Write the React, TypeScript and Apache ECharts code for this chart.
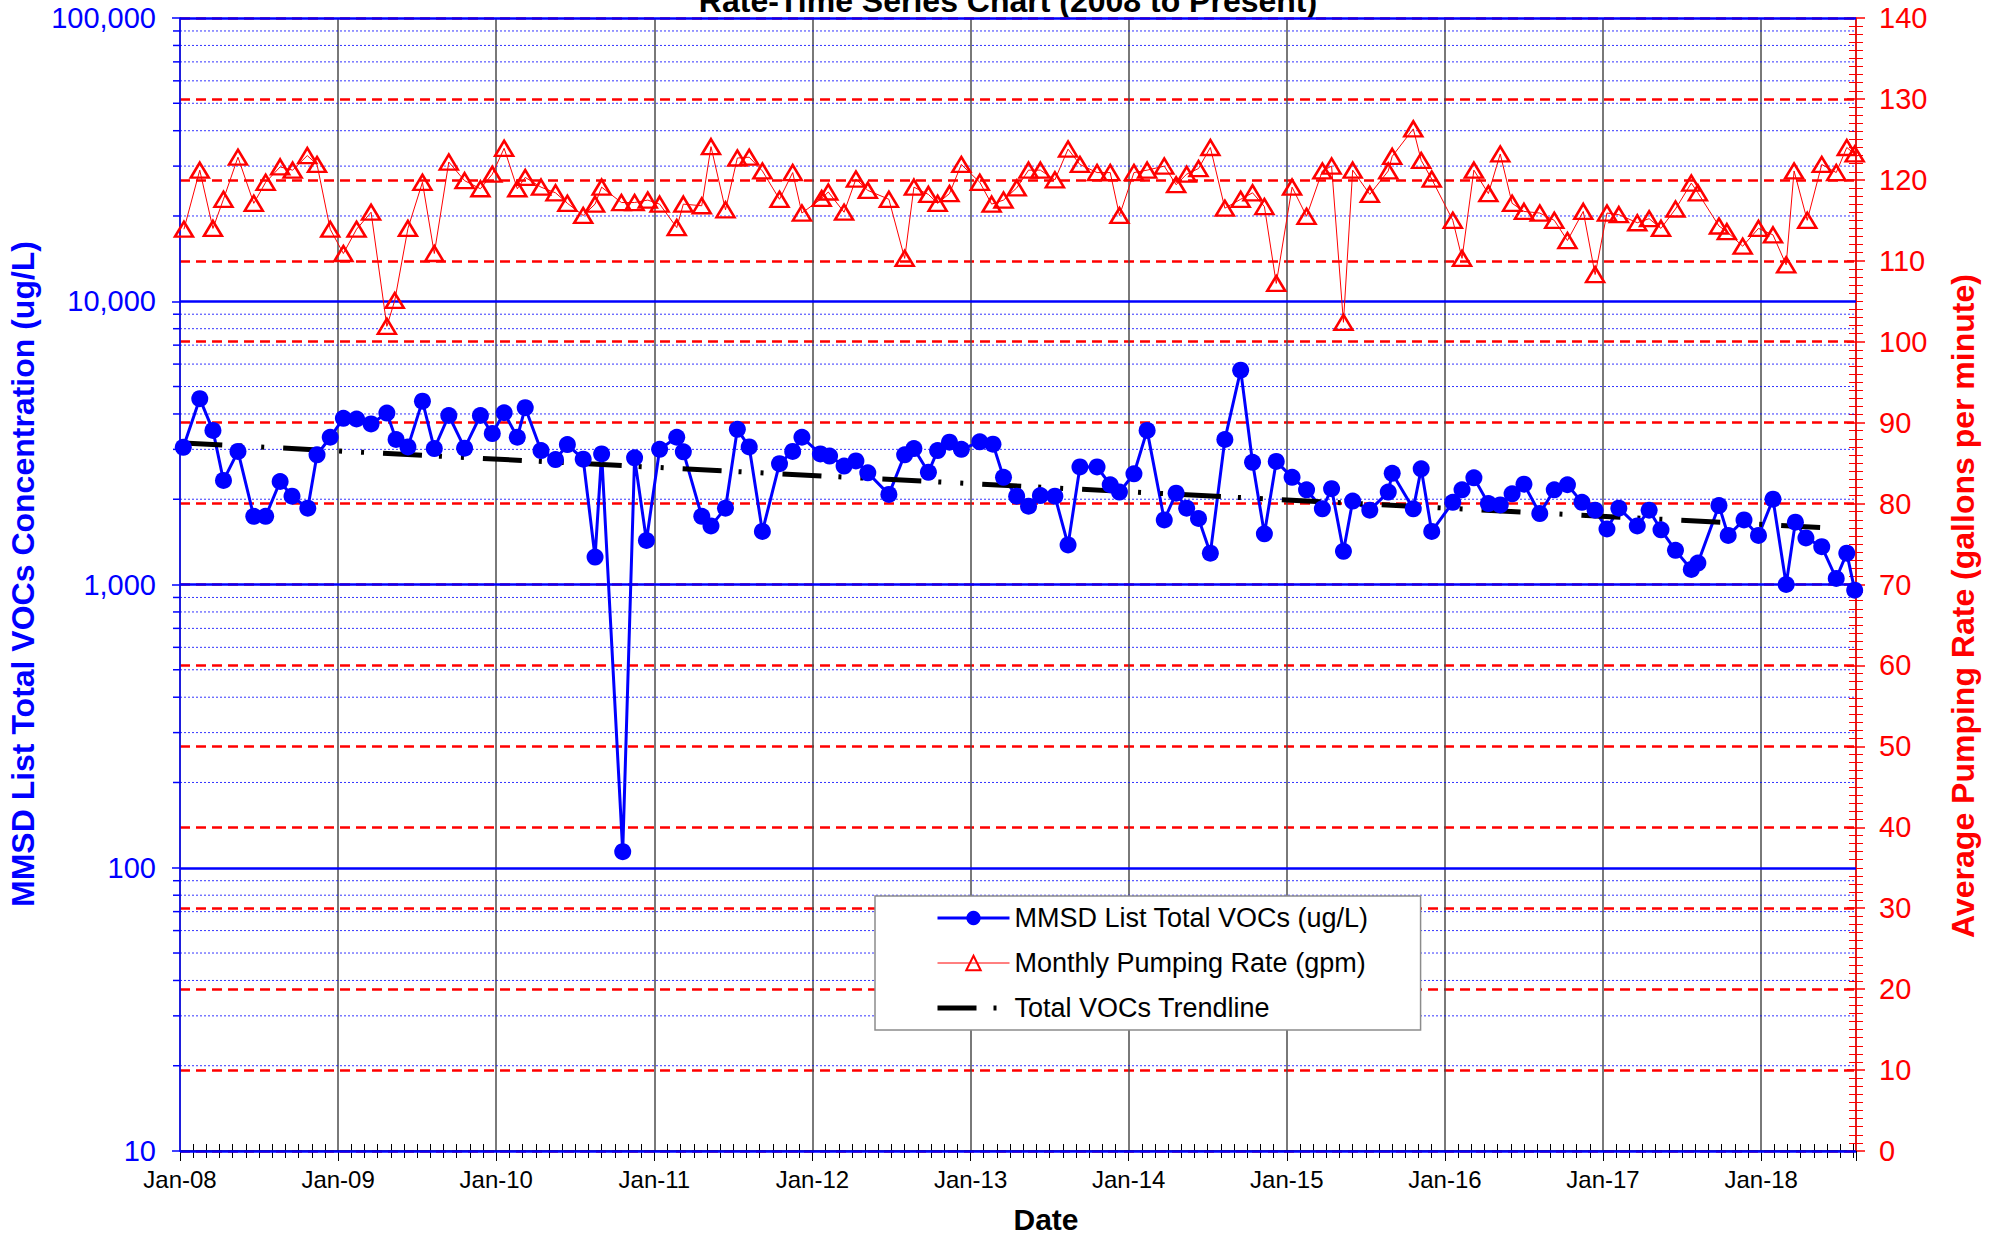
import React, { useEffect, useRef } from 'react';
import * as echarts from 'echarts';

// x values are months elapsed since 1 Jan 2008
const YEAR_LABELS = ['Jan-08', 'Jan-09', 'Jan-10', 'Jan-11', 'Jan-12', 'Jan-13', 'Jan-14', 'Jan-15', 'Jan-16', 'Jan-17', 'Jan-18'];

const PUMP_MONTHS = [
  0.3, 1.5, 2.5, 3.3, 4.4, 5.6, 6.5, 7.6, 8.55, 9.66, 10.4, 11.4,
  12.4, 13.4, 14.5, 15.7, 16.3, 17.3, 18.4, 19.3, 20.4, 21.6, 22.8, 23.7,
  24.6, 25.6, 26.2, 27.4, 28.5, 29.4, 30.6, 31.5, 32.0, 33.5, 34.5, 35.5,
  36.4, 37.7, 38.2, 39.6, 40.3, 41.4, 42.3, 43.2, 44.2, 45.5, 46.5, 47.2,
  48.7, 49.2, 50.4, 51.3, 52.2, 53.8, 55.0, 55.7, 56.8, 57.5, 58.4, 59.3,
  60.7, 61.6, 62.5, 63.5, 64.4, 65.3, 66.4, 67.4, 68.3, 69.6, 70.6, 71.3,
  72.4, 73.4, 74.7, 75.6, 76.4, 77.3, 78.2, 79.3, 80.5, 81.4, 82.3, 83.2,
  84.4, 85.5, 86.7, 87.4, 88.3, 89.0, 90.3, 91.7, 92.0, 93.6, 94.2, 95.0,
  96.6, 97.3, 98.2, 99.3, 100.2, 101.1, 102.0, 103.2, 104.3, 105.3, 106.5, 107.4,
  108.3, 109.2, 110.6, 111.5, 112.4, 113.5, 114.7, 115.2, 116.8, 117.4, 118.6, 119.8,
  120.9, 121.9, 122.5, 123.5, 124.6, 125.7, 126.5, 127.1,
];
const PUMP_RATES = [
  113.9, 121.2, 114.0, 117.6, 122.8, 117.1, 119.7, 121.6, 121.2, 123.0, 121.9, 113.9,
  110.9, 113.9, 116.0, 101.9, 105.1, 114.0, 119.7, 110.9, 122.2, 119.9, 118.9, 120.7,
  123.9, 118.9, 120.3, 119.1, 118.4, 117.1, 115.6, 117.0, 119.1, 117.2, 117.2, 117.5,
  117.0, 114.1, 117.0, 116.8, 124.1, 116.3, 122.7, 122.8, 121.1, 117.6, 120.9, 115.9,
  117.7, 118.5, 116.0, 120.1, 118.7, 117.6, 110.3, 119.1, 118.2, 117.1, 118.3, 121.9,
  119.7, 117.0, 117.5, 119.0, 121.2, 121.2, 120.0, 123.8, 121.9, 120.9, 120.9, 115.6,
  120.9, 121.2, 121.7, 119.4, 120.7, 121.4, 124.0, 116.5, 117.6, 118.4, 116.7, 107.2,
  119.1, 115.5, 121.1, 121.7, 102.4, 121.2, 118.2, 121.1, 122.9, 126.3, 122.4, 120.1,
  115.0, 110.3, 121.2, 118.3, 123.2, 117.1, 116.1, 115.9, 115.0, 112.5, 116.1, 108.3,
  115.9, 115.7, 114.7, 115.2, 114.0, 116.4, 119.6, 118.4, 114.3, 113.6, 111.8, 114.0,
  113.2, 109.5, 121.1, 115.0, 121.9, 120.9, 124.0, 123.2,
];

const VOC_MONTHS = [
  0.25, 1.5, 2.5, 3.3, 4.4, 5.6, 6.5, 7.6, 8.5, 9.7, 10.4, 11.4,
  12.4, 13.4, 14.5, 15.7, 16.4, 17.3, 18.4, 19.3, 20.4, 21.6, 22.8, 23.7,
  24.6, 25.6, 26.2, 27.4, 28.5, 29.4, 30.6, 31.5, 32.0, 33.6, 34.5, 35.4,
  36.4, 37.7, 38.2, 39.6, 40.3, 41.4, 42.3, 43.2, 44.2, 45.5, 46.5, 47.2,
  48.6, 49.3, 50.4, 51.3, 52.2, 53.8, 55.0, 55.7, 56.8, 57.5, 58.4, 59.3,
  60.7, 61.7, 62.5, 63.5, 64.4, 65.3, 66.4, 67.4, 68.3, 69.6, 70.6, 71.3,
  72.4, 73.4, 74.7, 75.6, 76.4, 77.3, 78.2, 79.3, 80.5, 81.4, 82.3, 83.2,
  84.4, 85.5, 86.7, 87.4, 88.3, 89.0, 90.3, 91.7, 92.0, 93.6, 94.2, 95.0,
  96.6, 97.3, 98.2, 99.3, 100.2, 101.1, 102.0, 103.2, 104.3, 105.3, 106.4, 107.4,
  108.3, 109.2, 110.6, 111.5, 112.4, 113.5, 114.7, 115.2, 116.8, 117.5, 118.7, 119.8,
  120.9, 121.9, 122.6, 123.4, 124.6, 125.7, 126.5, 127.1,
];
const VOC_VALUES = [
  3050, 4530, 3500, 2330, 2950, 1740, 1740, 2310, 2050, 1860, 2870, 3310,
  3860, 3840, 3690, 4030, 3250, 3060, 4440, 3020, 3950, 3030, 3950, 3410,
  4040, 3310, 4210, 2970, 2760, 3120, 2770, 1250, 2890, 114, 2800, 1430,
  3000, 3310, 2940, 1740, 1610, 1860, 3530, 3060, 1540, 2670, 2950, 3310,
  2890, 2840, 2620, 2730, 2480, 2080, 2870, 3020, 2490, 2970, 3180, 3000,
  3190, 3130, 2390, 2050, 1890, 2060, 2050, 1380, 2600, 2600, 2250, 2120,
  2460, 3500, 1690, 2100, 1860, 1710, 1290, 3250, 5710, 2700, 1510, 2720,
  2390, 2160, 1850, 2180, 1310, 1970, 1830, 2120, 2470, 1850, 2560, 1540,
  1950, 2160, 2380, 1930, 1910, 2090, 2260, 1780, 2160, 2250, 1950, 1830,
  1570, 1860, 1610, 1830, 1560, 1320, 1130, 1190, 1900, 1490, 1690, 1490,
  2000, 1000, 1660, 1460, 1360, 1050, 1290, 955,
];

const TREND_MONTHS = [0.25, 125.6];
const TREND_VALUES = [3160, 1580];

const MINOR_LOG_LINES = [
  20, 30, 40, 50, 60, 70, 80, 90,
  200, 300, 400, 500, 600, 700, 800, 900,
  2000, 3000, 4000, 5000, 6000, 7000, 8000, 9000,
  20000, 30000, 40000, 50000, 60000, 70000, 80000, 90000,
];

const NAME_VOC = 'MMSD List Total VOCs (ug/L)';
const NAME_PUMP = 'Monthly Pumping Rate (gpm)';
const NAME_TREND = 'Total VOCs Trendline';

const FONT = '"Liberation Sans", Arial, Helvetica, sans-serif';
const BLUE = '#0000ff';
const RED = '#ff0000';
const X_MAX = 127.2;
const TREND_DASH = [39, 17, 3, 19, 3, 19];

function buildOption(): any {
  const vocData = VOC_MONTHS.map((m, i) => [m, VOC_VALUES[i]]);
  const pumpData = PUMP_MONTHS.map((m, i) => [m, PUMP_RATES[i]]);
  const trendData = TREND_MONTHS.map((m, i) => [m, TREND_VALUES[i]]);
  const minorData = MINOR_LOG_LINES.map((v) => [0, v]);

  return {
    animation: false,
    backgroundColor: '#ffffff',
    textStyle: { fontFamily: FONT },
    grid: { left: 180, right: 145, top: 18, bottom: 85, containLabel: false },
    legend: {
      orient: 'vertical',
      left: 875,
      top: 896,
      selectedMode: false,
      data: [
        { name: NAME_VOC, lineStyle: { width: 3, color: BLUE } },
        { name: NAME_PUMP, lineStyle: { width: 1, color: RED } },
        {
          name: NAME_TREND,
          itemStyle: { opacity: 0 },
          lineStyle: { width: 5, color: '#000', type: TREND_DASH, cap: 'butt' },
        },
      ],
      itemWidth: 72,
      itemHeight: 18,
      itemGap: 15,
      padding: [7, 52, 7, 60],
      backgroundColor: '#ffffff',
      borderColor: '#8c8c8c',
      borderWidth: 1.5,
      textStyle: { fontSize: 27, color: '#000', lineHeight: 30, fontFamily: FONT },
    },
    xAxis: [
      {
        type: 'value',
        min: 0,
        max: X_MAX,
        interval: 12,
        position: 'bottom',
        axisLine: { show: true, onZero: false, lineStyle: { color: '#000', width: 1.5 } },
        axisTick: { show: true, length: 10, lineStyle: { color: '#000', width: 1 } },
        minorTick: { show: true, splitNumber: 12, length: 7, lineStyle: { color: '#000', width: 1 } },
        splitLine: { show: true, lineStyle: { color: '#4d4d4d', width: 1.5 } },
        minorSplitLine: { show: false },
        axisLabel: {
          fontSize: 24,
          color: '#000',
          margin: 16,
          showMaxLabel: false,
          formatter: (v: number) => (Math.abs(v % 12) < 1e-6 ? YEAR_LABELS[Math.round(v / 12)] || '' : ''),
        },
      },
      {
        type: 'value',
        min: 0,
        max: X_MAX,
        interval: 12,
        position: 'bottom',
        axisLine: { show: false, onZero: false },
        axisTick: { show: false, inside: true },
        minorTick: { show: true, splitNumber: 12, length: 7, lineStyle: { color: '#000', width: 1 } },
        splitLine: { show: false },
        axisLabel: { show: false },
      },
    ],
    yAxis: [
      {
        type: 'log',
        logBase: 10,
        min: 10,
        max: 100000,
        position: 'left',
        z: 1,
        axisLine: { show: true, onZero: false, lineStyle: { color: BLUE, width: 1.5 } },
        axisTick: { show: true, length: 8, lineStyle: { color: BLUE, width: 1.5 } },
        splitLine: { show: true, lineStyle: { color: BLUE, width: 2.5 } },
        axisLabel: {
          color: BLUE,
          fontSize: 29,
          margin: 24,
          formatter: (v: number) => Number(v).toLocaleString('en-US'),
        },
      },
      {
        type: 'value',
        min: 0,
        max: 140,
        interval: 10,
        position: 'right',
        axisLine: { show: true, onZero: false, lineStyle: { color: RED, width: 1.5 } },
        axisTick: { show: true, length: 9, lineStyle: { color: RED, width: 1.5 } },
        minorTick: { show: true, splitNumber: 10, length: 7, lineStyle: { color: RED, width: 1 } },
        splitLine: { show: true, lineStyle: { color: RED, width: 2.5, type: [10, 6] } },
        axisLabel: { color: RED, fontSize: 29, margin: 23 },
      },
      {
        type: 'value',
        min: 0,
        max: 140,
        interval: 10,
        position: 'right',
        axisLine: { show: false, onZero: false },
        axisTick: { show: true, inside: true, length: 9, lineStyle: { color: RED, width: 1.5 } },
        minorTick: { show: true, splitNumber: 10, length: 7, lineStyle: { color: RED, width: 1 } },
        splitLine: { show: false },
        axisLabel: { show: false },
      },
    ],
    graphic: [
      {
        type: 'text',
        x: 1008,
        y: 1,
        style: {
          text: 'Rate-Time Series Chart (2008 to Present)',
          font: `bold 32px ${FONT}`,
          fill: '#000',
          align: 'center',
          verticalAlign: 'middle',
        },
      },
      {
        type: 'text',
        x: 23,
        y: 574,
        rotation: Math.PI / 2,
        style: {
          text: 'MMSD List Total VOCs Concentration (ug/L)',
          font: `bold 32px ${FONT}`,
          fill: BLUE,
          align: 'center',
          verticalAlign: 'middle',
        },
      },
      {
        type: 'text',
        x: 1963,
        y: 606,
        rotation: Math.PI / 2,
        style: {
          text: 'Average Pumping Rate (gallons per minute)',
          font: `bold 32px ${FONT}`,
          fill: RED,
          align: 'center',
          verticalAlign: 'middle',
        },
      },
      {
        type: 'text',
        x: 1046,
        y: 1219,
        style: {
          text: 'Date',
          font: `bold 30px ${FONT}`,
          fill: '#000',
          align: 'center',
          verticalAlign: 'middle',
        },
      },
    ],
    series: [
      {
        type: 'custom',
        name: 'minor-grid',
        xAxisIndex: 0,
        yAxisIndex: 0,
        silent: true,
        clip: false,
        data: minorData,
        encode: { x: 0, y: 1 },
        renderItem: (params: any, api: any) => {
          const y = api.coord([0, api.value(1)])[1];
          const cs = params.coordSys;
          return {
            type: 'group',
            children: [
              {
                type: 'line',
                shape: { x1: cs.x - 7, y1: y, x2: cs.x, y2: y },
                style: { stroke: BLUE, lineWidth: 1.5 },
              },
              {
                type: 'line',
                shape: { x1: cs.x, y1: y, x2: cs.x + cs.width, y2: y },
                style: { stroke: BLUE, lineWidth: 1, lineDash: [2, 2], opacity: 0.8 },
              },
            ],
          };
        },
      },
      {
        type: 'line',
        name: NAME_PUMP,
        xAxisIndex: 0,
        yAxisIndex: 1,
        data: pumpData,
        symbol: 'triangle',
        symbolSize: [18, 15],
        showSymbol: true,
        lineStyle: { color: RED, width: 1 },
        itemStyle: { color: 'rgba(255,0,0,0)', borderColor: RED, borderWidth: 2.5 },
      },
      {
        type: 'line',
        name: NAME_VOC,
        xAxisIndex: 0,
        yAxisIndex: 0,
        data: vocData,
        symbol: 'circle',
        symbolSize: 17,
        showSymbol: true,
        lineStyle: { color: BLUE, width: 3 },
        itemStyle: { color: BLUE },
      },
      {
        type: 'line',
        name: NAME_TREND,
        xAxisIndex: 0,
        yAxisIndex: 0,
        data: trendData,
        symbol: 'none',
        lineStyle: { color: '#000', width: 5, type: TREND_DASH, cap: 'butt' },
        itemStyle: { color: '#000' },
      },
    ],
  };
}

export default function App() {
  const ref = useRef<HTMLDivElement>(null);
  useEffect(() => {
    if (!ref.current) return;
    const chart = echarts.init(ref.current, null, { renderer: 'svg' });
    chart.setOption(buildOption());
    return () => chart.dispose();
  }, []);
  return (
    <div
      ref={ref}
      style={{ position: 'fixed', left: 0, top: 0, width: 2001, height: 1236, background: '#ffffff' }}
    />
  );
}
